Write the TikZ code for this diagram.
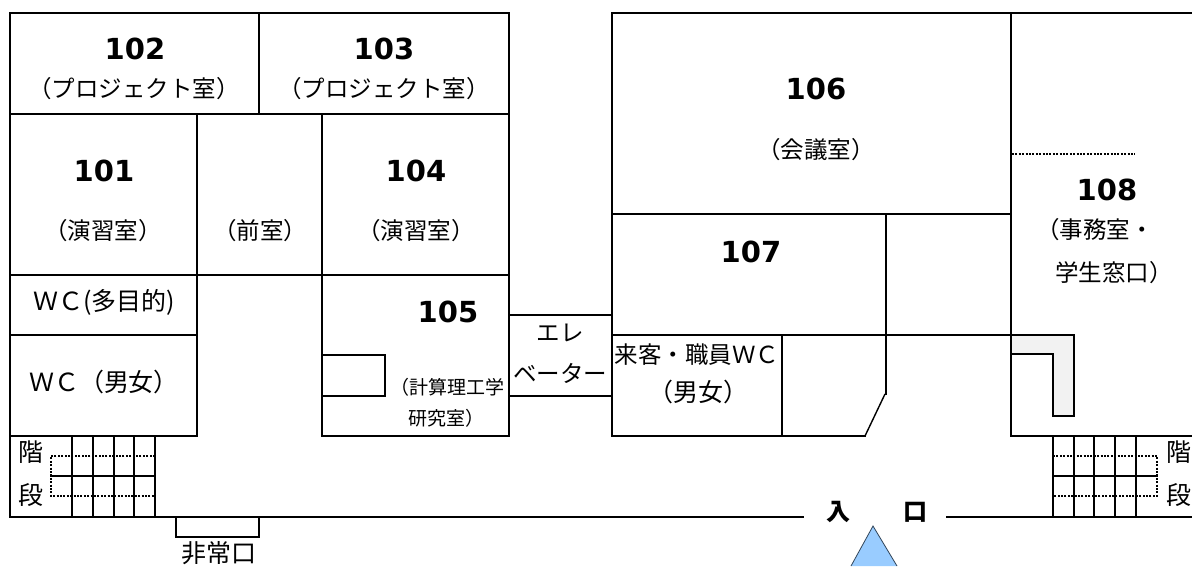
\documentclass[tikz,border=0pt]{standalone}
\usepackage{fontspec}
\setmainfont{Noto Sans CJK JP}
\newfontfamily\numfont{DejaVu Sans}
\tikzset{
    wall/.style={line width=2.2pt, line cap=rect},
    thin wall/.style={line width=1.4pt},
    dot wall/.style={line width=2pt, dash pattern=on 2pt off 1.4pt},
    room no/.style={inner sep=0pt, font=\numfont\bfseries\fontsize{29}{32}\selectfont},
    big name/.style={inner sep=0pt, font=\fontsize{25}{28}\selectfont},
    room name/.style={inner sep=0pt, font=\fontsize{23.5}{26}\selectfont},
    small name/.style={inner sep=0pt, font=\fontsize{19}{22}\selectfont},
    door mark/.style={inner sep=0pt, font=\bfseries\fontsize{24}{28}\selectfont},
}

\begin{document}
\begin{tikzpicture}[x=1pt, y=-1pt]
    \useasboundingbox (0, 0) rectangle (1192, 566);

    \fill[fill={rgb,255:red,242;green,242;blue,242}] (1011, 335) -- (1074, 335) -- (1074, 416) -- (1053, 416) -- (1053, 354) -- (1011, 354) -- cycle;
    \draw[wall] (1011, 335) -- (1074, 335) -- (1074, 416) -- (1053, 416) -- (1053, 354) -- (1011, 354);

    \draw[wall] (10, 13) rectangle (509, 114);
    \draw[wall] (259, 13) -- (259, 114);
    \draw[wall] (10, 114) -- (10, 517);
    \draw[wall] (197, 114) -- (197, 436);
    \draw[wall] (322, 114) -- (322, 436);
    \draw[wall] (509, 114) -- (509, 436);
    \draw[wall] (10, 275) -- (509, 275);
    \draw[wall] (10, 335) -- (197, 335);
    \draw[wall] (10, 436) -- (197, 436);
    \draw[wall] (322, 436) -- (509, 436);
    \draw[wall] (322, 355) -- (385, 355) -- (385, 396) -- (322, 396);

    \draw[wall] (509, 315) -- (612, 315);
    \draw[wall] (509, 396) -- (612, 396);

    \draw[wall] (1192, 13) -- (612, 13) -- (612, 436) -- (865, 436);
    \draw[wall] (1011, 13) -- (1011, 436) -- (1192, 436);
    \draw[wall] (612, 214) -- (1011, 214);
    \draw[wall] (612, 335) -- (1011, 335);
    \draw[wall] (886, 214) -- (886, 394);
    \draw[wall] (782, 335) -- (782, 436);
    \draw[thin wall] (885, 394) -- (865, 436);
    \draw[dot wall] (1012, 154) -- (1135, 154);

    \draw[wall] (10, 517) -- (803, 517);
    \draw[wall] (947, 517) -- (1192, 517);
    \draw[wall] (176, 517) -- (176, 537) -- (259, 537) -- (259, 517);

    \draw[wall] (72, 436) -- (72, 517);
    \draw[wall] (93, 436) -- (93, 517);
    \draw[wall] (114, 436) -- (114, 517);
    \draw[wall] (134, 436) -- (134, 517);
    \draw[wall] (155, 436) -- (155, 517);
    \draw[wall] (51, 476) -- (155, 476);
    \draw[dot wall] (155, 456) -- (51, 456) -- (51, 496) -- (155, 496);

    \draw[wall] (1053, 436) -- (1053, 517);
    \draw[wall] (1074, 436) -- (1074, 517);
    \draw[wall] (1094, 436) -- (1094, 517);
    \draw[wall] (1115, 436) -- (1115, 517);
    \draw[wall] (1136, 436) -- (1136, 517);
    \draw[wall] (1053, 476) -- (1157, 476);
    \draw[dot wall] (1053, 456) -- (1157, 456) -- (1157, 496) -- (1053, 496);

    \fill[fill={rgb,255:red,153;green,204;blue,255}] (873, 526) -- (897, 566) -- (851, 566) -- cycle;
    \draw[line width=.8pt, draw={rgb,255:red,50;green,70;blue,90}] (851, 566) -- (873, 526) -- (897, 566);

    \node[room no] (no102) at (135, 49) {102};
    \node[room name] (name102) at (134, 89) {（プロジェクト室）};
    \node[room no] (no103) at (384, 49) {103};
    \node[room name] (name103) at (384, 89) {（プロジェクト室）};
    \node[room no] (no101) at (104, 171) {101};
    \node[room name] (name101) at (103, 231) {（演習室）};
    \node[room name] (namefront) at (260, 231) {（前室）};
    \node[room no] (no104) at (416, 171) {104};
    \node[room name] (name104) at (416, 231) {（演習室）};
    \node[big name] (wcmulti) at (104, 302) {ＷＣ(多目的)};
    \node[big name] (wcleft) at (104, 382) {ＷＣ（男女）};
    \node[room no] (no105) at (448, 312) {105};
    \node[small name] (name105a) at (447, 387) {（計算理工学};
    \node[small name] (name105b) at (446, 418) {研究室）};
    \node[room name] (eva) at (560, 333) {エレ};
    \node[room name] (evb) at (560, 373) {ベーター};
    \node[room name] (wcguest) at (697, 355) {来客・職員ＷＣ};
    \node[big name] (wcguestb) at (698, 392) {（男女）};
    \node[room no] (no106) at (816, 89) {106};
    \node[room name] (name106) at (816, 150) {（会議室）};
    \node[room no] (no107) at (751, 252) {107};
    \node[room no] (no108) at (1107, 190) {108};
    \node[room name] (name108a) at (1095, 230) {（事務室・};
    \node[room name] (name108b) at (1114, 273) {学生窓口）};
    \node[big name] (stairla) at (31, 452) {階};
    \node[big name] (stairlb) at (31, 495) {段};
    \node[big name] (stairra) at (1179, 452) {階};
    \node[big name] (stairrb) at (1179, 495) {段};
    \node[big name] (exit) at (219, 553) {非常口};
    \node[door mark] (ent) at (838, 512) {入};
    \node[door mark] (entb) at (915, 512) {口};
\end{tikzpicture}
\end{document}
